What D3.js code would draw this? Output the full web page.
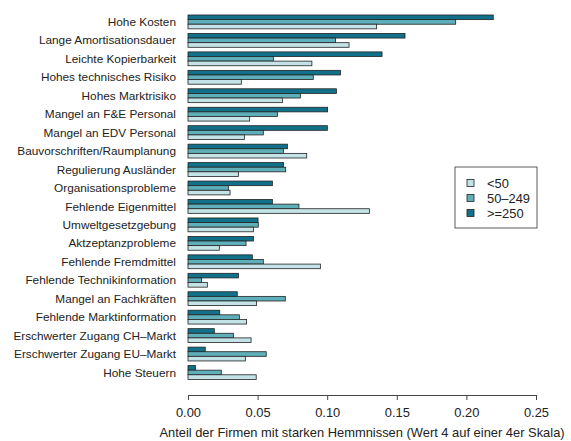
<!DOCTYPE html>
<html>
<head>
<meta charset="utf-8">
<script src="https://cdn.jsdelivr.net/npm/d3@7"></script>
<style>
  body { margin: 0; background: #fff; }
  text { font-family: "Liberation Sans", Arial, Helvetica, sans-serif; fill: #222; }
</style>
</head>
<body>
<div id="chart"></div>
<script>
// categories top to bottom
var categories = ["Hohe Kosten", "Lange Amortisationsdauer", "Leichte Kopierbarkeit",
  "Hohes technisches Risiko", "Hohes Marktrisiko", "Mangel an F&E Personal",
  "Mangel an EDV Personal", "Bauvorschriften/Raumplanung", "Regulierung Ausländer",
  "Organisationsprobleme", "Fehlende Eigenmittel", "Umweltgesetzgebung",
  "Aktzeptanzprobleme", "Fehlende Fremdmittel", "Fehlende Technikinformation",
  "Mangel an Fachkräften", "Fehlende Marktinformation", "Erschwerter Zugang CH\u2013Markt",
  "Erschwerter Zugang EU\u2013Markt", "Hohe Steuern"];

var small = [0.1355, 0.1157, 0.089, 0.0383, 0.0678, 0.0443, 0.0405, 0.0853, 0.0362, 0.0302,
  0.1303, 0.047, 0.0225, 0.0951, 0.0139, 0.0493, 0.0421, 0.0453, 0.0412, 0.049];
var medium = [0.1923, 0.106, 0.0613, 0.090, 0.0807, 0.0642, 0.0541, 0.0685, 0.0702, 0.029,
  0.0797, 0.0505, 0.0417, 0.0541, 0.0098, 0.0699, 0.0369, 0.0326, 0.0562, 0.0239];
var large = [0.2193, 0.1559, 0.1394, 0.1095, 0.1066, 0.1003, 0.1001, 0.0714, 0.0687, 0.0606,
  0.0606, 0.0503, 0.047, 0.0462, 0.0362, 0.0354, 0.0228, 0.0189, 0.0124, 0.0053];

var seriesNames = ["<50", "50\u2013249", ">=250"];
var xTicks = [0, 0.05, 0.10, 0.15, 0.20, 0.25];
var xTitle = "Anteil der Firmen mit starken Hemmnissen (Wert 4 auf einer 4er Skala)";

var colors = {"<50": "#c3e3e6", "50\u2013249": "#5eafba", ">=250": "#12718a"};
var seriesValues = {"<50": small, "50\u2013249": medium, ">=250": large};

var width = 571, height = 441;
var svg = d3.select("#chart").append("svg").attr("width", width).attr("height", height);

var x = d3.scaleLinear().domain([0, 0.25]).range([188, 536]);
var y = d3.scaleBand().domain(categories).range([15, 379.4]).paddingInner(0.25).paddingOuter(0);
// dark bar on top within each group
var inner = d3.scaleBand().domain([">=250", "50\u2013249", "<50"]).range([0, y.bandwidth()]);

var groups = svg.selectAll("g.grp").data(categories).enter().append("g")
  .attr("class", "grp")
  .attr("transform", function(d){ return "translate(0," + y(d) + ")"; });

groups.selectAll("rect").data(function(d, i){
    return inner.domain().map(function(k){ return {key: k, value: seriesValues[k][i]}; });
  }).enter().append("rect")
  .attr("x", x(0))
  .attr("y", function(d){ return inner(d.key); })
  .attr("width", function(d){ return x(d.value) - x(0); })
  .attr("height", inner.bandwidth())
  .style("fill", function(d){ return colors[d.key]; })
  .style("stroke", "#222")
  .style("stroke-width", 0.8);

// category labels
svg.selectAll("text.cat").data(categories).enter().append("text")
  .attr("class", "cat")
  .attr("x", 176)
  .attr("y", function(d){ return y(d) + y.bandwidth() / 2; })
  .attr("dy", "0.35em")
  .attr("text-anchor", "end")
  .style("font-size", "11.8px")
  .text(function(d){ return d; });

// x axis
var axis = d3.axisBottom(x).tickValues(xTicks).tickSize(5)
  .tickFormat(d3.format(".2f"));
var ag = svg.append("g").attr("transform", "translate(0,395)").call(axis);
ag.select(".domain").attr("stroke", "#444");
ag.selectAll(".tick line").attr("stroke", "#444");
ag.selectAll(".tick text").attr("y", 22).attr("dy", 0).style("font-size", "12.9px")
  .style("font-family", "'Liberation Sans', Arial, sans-serif").attr("fill", "#222");

svg.append("text")
  .attr("x", x(0.125)).attr("y", 437)
  .attr("text-anchor", "middle")
  .style("font-size", "12.9px")
  .text(xTitle);

// legend
var lg = svg.append("g").attr("transform", "translate(455,167)");
lg.append("rect").attr("width", 82).attr("height", 61)
  .style("fill", "#fff").style("stroke", "#333").style("stroke-width", 0.8);
seriesNames.forEach(function(k, i){
  var cy = 16 + i * 15;
  lg.append("rect").attr("x", 12).attr("y", cy - 3.5).attr("width", 7).attr("height", 7)
    .style("fill", colors[k]).style("stroke", "#222").style("stroke-width", 0.8);
  lg.append("text").attr("x", 32).attr("y", cy).attr("dy", "0.35em")
    .style("font-size", "12.9px").text(k);
});
</script>
</body>
</html>
